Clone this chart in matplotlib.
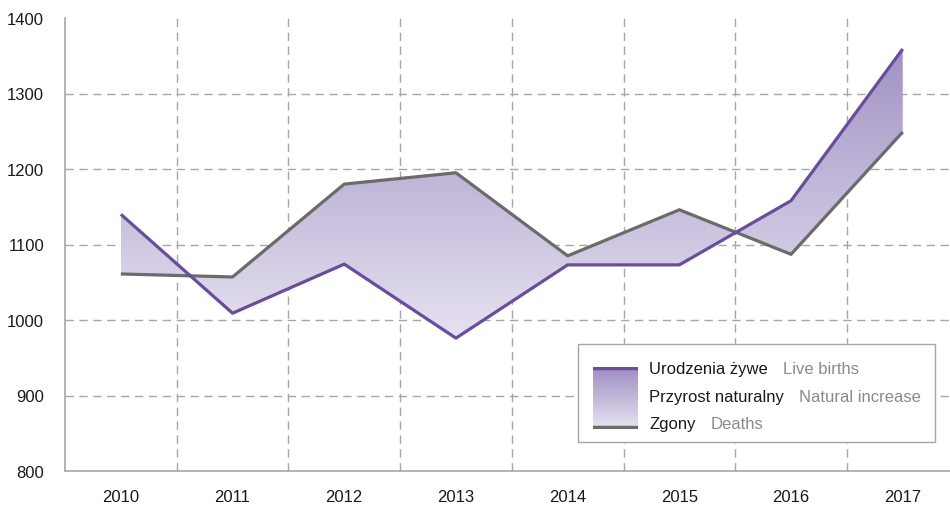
import numpy as np
import matplotlib
matplotlib.use("Agg")
import matplotlib.pyplot as plt
from matplotlib.colors import LinearSegmentedColormap
from matplotlib.patches import Rectangle
from matplotlib.text import Annotation

plt.rcParams['font.family'] = ['Liberation Sans', 'DejaVu Sans']

years = ['2010', '2011', '2012', '2013', '2014', '2015', '2016', '2017']
births = [1140, 1009, 1074, 976, 1073, 1073, 1158, 1359]
deaths = [1061, 1057, 1180, 1195, 1085, 1146, 1087, 1249]
yticks = [800, 900, 1000, 1100, 1200, 1300, 1400]
legend_pl = ['Urodzenia żywe', 'Przyrost naturalny', 'Zgony']
legend_en = ['Live births', 'Natural increase', 'Deaths']

purple = '#6a4c9c'
grey = '#6b6b6b'
cmap = LinearSegmentedColormap.from_list('g', ['#e6e2f0', '#a192c4'])

W, H = 950, 510
fig = plt.figure(figsize=(W / 100, H / 100), dpi=100)
ax = fig.add_axes([65 / W, (H - 472) / H, 893.6 / W, (472 - 19) / H])

x = np.arange(len(years))
poly = ax.fill_between(x, births, deaths, color='none', lw=0)
lo, hi = min(births + deaths), max(births + deaths)
grad = np.linspace(0, 1, 256).reshape(-1, 1)
im = ax.imshow(grad, extent=[x[0], x[-1], lo, hi], origin='lower', aspect='auto',
               cmap=cmap, zorder=1)
im.set_clip_path(poly.get_paths()[0], transform=ax.transData)

ax.plot(x, deaths, color=grey, lw=2.3, zorder=3, solid_capstyle='butt')
ax.plot(x, births, color=purple, lw=2.3, zorder=4, solid_capstyle='butt')

ax.set_xlim(-0.5, len(years) - 0.5)
ax.set_ylim(800, 1400)
ax.set_xticks(x)
ax.set_xticklabels(years)
ax.set_yticks(yticks)
ax.tick_params(length=0, labelsize=12, colors='#1a1a1a')
ax.tick_params(axis='y', pad=15)
ax.tick_params(axis='x', pad=13)

for v in yticks[1:-1]:
    ax.axhline(v, color='#a6a6a6', lw=1, ls=(0, (6, 4)), zorder=0)
for xv in x[:-1] + 0.5:
    ax.axvline(xv, color='#a6a6a6', lw=1, ls=(0, (6, 4)), zorder=0)

for s in ['top', 'right']:
    ax.spines[s].set_visible(False)
for s in ['left', 'bottom']:
    ax.spines[s].set_color('#a6a6a6')
    ax.spines[s].set_linewidth(1.2)

# legend
fig.patches.append(Rectangle((578 / W, (H - 443) / H), (935 - 578) / W, 98 / H,
                             transform=fig.transFigure, facecolor='white',
                             edgecolor='#a6a6a6', lw=1, zorder=5))
lax = fig.add_axes([593 / W, (H - 430) / H, 45 / W, 62 / H], zorder=6)
lax.imshow(grad, extent=[0, 1, 0, 1], origin='lower', aspect='auto',
           cmap=LinearSegmentedColormap.from_list('g2', ['#e8e4f2', '#9c8cc2']))
lax.axhline(0.98, color=purple, lw=2.5)
lax.axhline(0.03, color=grey, lw=2.5)
lax.set_xlim(0, 1)
lax.set_ylim(0, 1)
lax.axis('off')

rows_y = [370, 398, 425]
for pl, en, yy in zip(legend_pl, legend_en, rows_y):
    t = fig.text(649 / W, (H - yy) / H, pl, fontsize=12, color='#1a1a1a',
                 va='center', ha='left', zorder=7)
    a = Annotation(en, xy=(1, 0.5), xycoords=t, xytext=(11, 0),
                   textcoords='offset points', fontsize=12, color='#8a8a8a',
                   va='center', ha='left', annotation_clip=False)
    a.set_zorder(7)
    fig.add_artist(a)

fig.savefig('out.png', dpi=100)
